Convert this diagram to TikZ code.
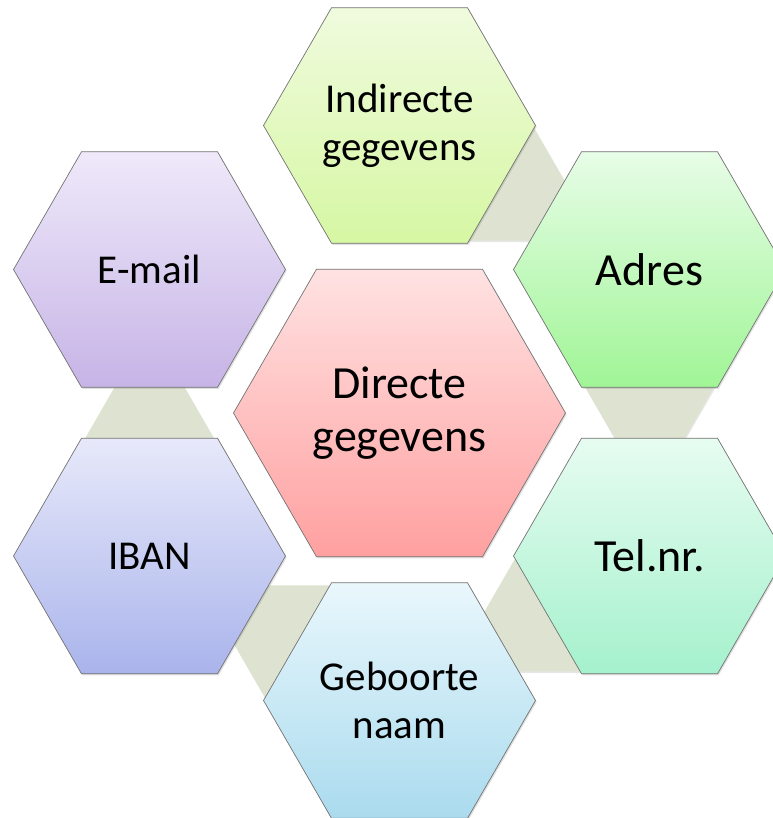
\documentclass[tikz,border=0pt]{standalone}
\usepackage{fontspec}
\setmainfont{Carlito}
\usetikzlibrary{shapes.geometric,shadows,calc,backgrounds}
\definecolor{hexborder}{RGB}{115,115,115}
\definecolor{connfill}{RGB}{221,227,208}
\definecolor{indtop}{RGB}{240,251,222}
\definecolor{indbot}{RGB}{214,247,163}
\definecolor{adrtop}{RGB}{231,253,231}
\definecolor{adrbot}{RGB}{160,245,150}
\definecolor{teltop}{RGB}{231,252,241}
\definecolor{telbot}{RGB}{165,241,205}
\definecolor{gebtop}{RGB}{233,247,252}
\definecolor{gebbot}{RGB}{170,219,238}
\definecolor{ibantop}{RGB}{231,233,250}
\definecolor{ibanbot}{RGB}{170,180,235}
\definecolor{mailtop}{RGB}{239,233,250}
\definecolor{mailbot}{RGB}{198,180,230}
\definecolor{dirtop}{RGB}{255,226,226}
\definecolor{dirbot}{RGB}{255,160,160}
\begin{document}
\begin{tikzpicture}[x=1pt,y=-1pt,
  hexa/.style={regular polygon, regular polygon sides=6, draw=hexborder,
    line width=0.7pt, inner sep=0pt, outer sep=0pt, align=center,
    text=black, minimum size=272pt,
    drop shadow={opacity=0.25, shadow xshift=1.2pt, shadow yshift=-1.5pt}},
  bighexa/.style={hexa, minimum size=332pt},
  smalltext/.style={font=\fontsize{41}{48}\selectfont},
  largetext/.style={font=\fontsize{46}{53}\selectfont},
  conn/.style={fill=connfill, draw=none,
    drop shadow={opacity=0.2, shadow xshift=1pt, shadow yshift=-1.5pt}}]
\useasboundingbox (0,0) rectangle (772,818);

\node[bighexa, top color=dirtop, bottom color=dirbot, largetext] (dir) at (399.5,413) {Directe\\gegevens};
\node[hexa, top color=indtop, bottom color=indbot, smalltext] (ind) at (399.5,125.5) {Indirecte\\gegevens};
\node[hexa, top color=adrtop, bottom color=adrbot, largetext] (adr) at (649.5,269.5) {Adres};
\node[hexa, top color=teltop, bottom color=telbot, largetext] (tel) at (649.5,556) {Tel.nr.};
\node[hexa, top color=gebtop, bottom color=gebbot, smalltext] (geb) at (399.5,700.5) {Geboorte\\naam};
\node[hexa, top color=ibantop, bottom color=ibanbot, smalltext] (iban) at (149.5,556) {IBAN};
\node[hexa, top color=mailtop, bottom color=mailbot, smalltext] (mail) at (149.5,269.5) {E-mail};

\begin{scope}[on background layer]
  \coordinate (c1) at ($(ind.center)!0.5!(adr.center)$);
  \coordinate (c2) at ($(adr.center)!0.5!(tel.center)$);
  \coordinate (c3) at ($(tel.center)!0.5!(geb.center)$);
  \coordinate (c4) at ($(geb.center)!0.5!(iban.center)$);
  \coordinate (c5) at ($(iban.center)!0.5!(mail.center)$);
  \fill[conn] ($(c1)+(-30:86pt)$) -- ($(c1)+(90:86pt)$) -- ($(c1)+(210:86pt)$) -- cycle;
  \fill[conn] ($(c2)+(-90:86pt)$) -- ($(c2)+(30:86pt)$) -- ($(c2)+(150:86pt)$) -- cycle;
  \fill[conn] ($(c3)+(-150:86pt)$) -- ($(c3)+(-30:86pt)$) -- ($(c3)+(90:86pt)$) -- cycle;
  \fill[conn] ($(c4)+(150:86pt)$) -- ($(c4)+(30:86pt)$) -- ($(c4)+(-90:86pt)$) -- cycle;
  \fill[conn] ($(c5)+(90:86pt)$) -- ($(c5)+(210:86pt)$) -- ($(c5)+(-30:86pt)$) -- cycle;
\end{scope}
\end{tikzpicture}
\end{document}
